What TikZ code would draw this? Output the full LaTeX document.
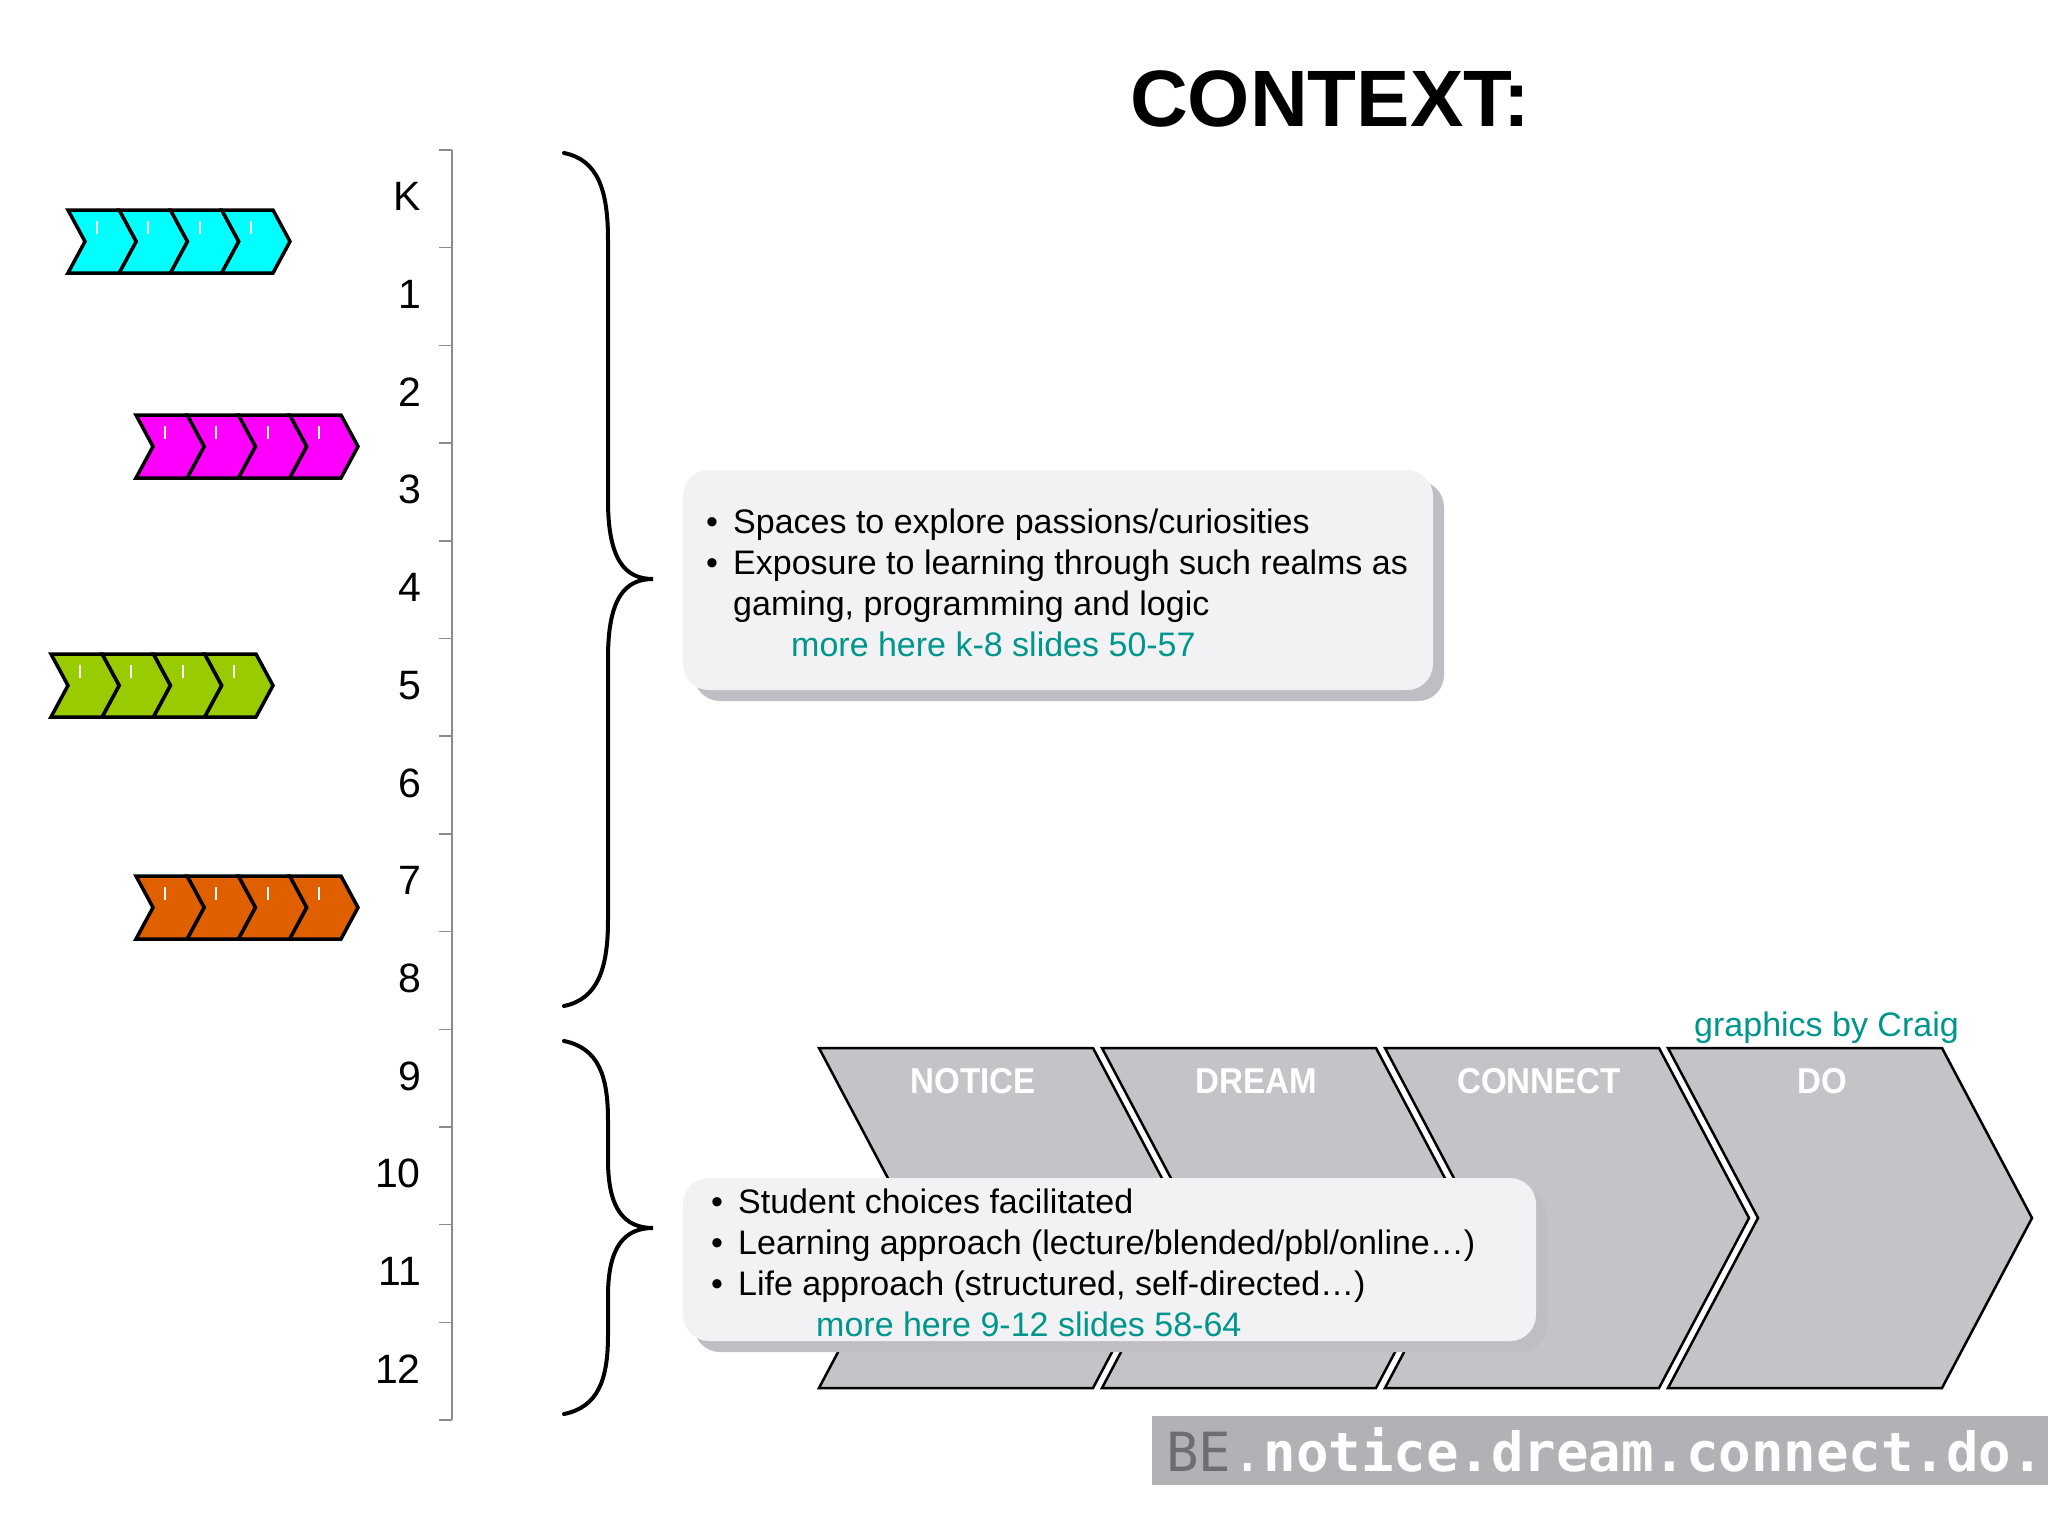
\documentclass[tikz,border=0pt]{standalone}
\usepackage{fontspec}
\setmainfont{Liberation Sans}
\newfontfamily\bandfont{DejaVu Sans Mono}
\definecolor{boxgray}{RGB}{242,242,244}
\definecolor{shadowgray}{RGB}{190,190,196}
\definecolor{tealtext}{RGB}{0,150,140}
\definecolor{chevgray}{RGB}{196,195,199}
\definecolor{bandgray}{RGB}{178,177,182}
\definecolor{bandBE}{RGB}{110,110,114}
\definecolor{rulergray}{RGB}{140,140,140}
\definecolor{cchev}{RGB}{0,255,255}
\definecolor{mchev}{RGB}{255,0,255}
\definecolor{gchev}{RGB}{153,204,0}
\definecolor{ochev}{RGB}{224,96,0}
\newcommand\smallchevrons[3]{%
  \foreach \i in {0,1,2,3}{%
    \pgfmathsetmacro\xa{#1+\i*51.25}
    \draw[chevsmall, fill=#3] (\xa,#2) -- ++(51.25,0) -- ++(17,31.5) -- ++(-17,31.5) -- ++(-51.25,0) -- ++(17,-31.5) -- cycle;
    \draw[white, line width=2bp] (\xa+29,#2+11) -- ++(0,13);
  }}
\begin{document}
\begin{tikzpicture}[x=1bp,y=-1bp,
  chevsmall/.style={draw=black, line width=3.5bp, line join=miter},
  bigchev/.style={draw=black, line width=2.5bp, fill=chevgray, line join=miter},
  chevlabel/.style={anchor=base, inner sep=0, text=white, xscale=0.92, font=\fontsize{36bp}{36bp}\selectfont\bfseries},
  rulerline/.style={draw=rulergray, line width=1.5bp},
  gradelabel/.style={anchor=base east, inner sep=0, font=\fontsize{41bp}{41bp}\selectfont},
  bracestyle/.style={draw=black, line width=4bp, line cap=round},
  boxtext/.style={anchor=base west, inner sep=0, font=\fontsize{34bp}{41bp}\selectfont},
  linktext/.style={anchor=base west, inner sep=0, text=tealtext, font=\fontsize{34bp}{41bp}\selectfont}
]
\useasboundingbox (0,0) rectangle (2048,1536);
\fill[white] (0,0) rectangle (2048,1536);

% title
\node[anchor=base, inner sep=0] (title) at (1330,127) {\fontsize{80bp}{80bp}\selectfont\bfseries CONTEXT:};

% small chevron groups
\smallchevrons{68}{210}{cchev}
\smallchevrons{136}{415}{mchev}
\smallchevrons{51}{654}{gchev}
\smallchevrons{136}{876}{ochev}

% ruler
\draw[rulerline] (452,150) -- (452,1420);
\foreach \i in {0,...,13}{
  \draw[rulerline] (439,150+97.7*\i) -- (452,150+97.7*\i);
}
\foreach \lab [count=\i from 0] in {K,1,2,3,4,5,6,7,8,9,10,11,12}{
  \node[gradelabel] (grade\i) at (421,150+97.7*\i+48.85+12) {\lab};
}

% braces
\draw[bracestyle] (564,153) .. controls (598,160) and (608,190) .. (608,240) -- (608,500)
  .. controls (608,560) and (625,579) .. (653,579)
  .. controls (625,579) and (608,598) .. (608,658) -- (608,920)
  .. controls (608,968) and (598,999) .. (564,1006);
\draw[bracestyle] (564,1041) .. controls (598,1048) and (608,1075) .. (608,1120) -- (608,1160)
  .. controls (608,1210) and (625,1228) .. (653,1228)
  .. controls (625,1228) and (608,1246) .. (608,1296) -- (608,1335)
  .. controls (608,1380) and (598,1407) .. (564,1414);

% process chevrons
\foreach \x/\lab/\nm in {819/NOTICE/notice, 1102/DREAM/dream, 1385/CONNECT/connect, 1668/DO/do}{
  \draw[bigchev] (\x,1048) -- ++(274,0) -- ++(90,170) -- ++(-90,170) -- ++(-274,0) -- ++(90,-170) -- cycle;
  \node[chevlabel] (\nm) at (\x+154,1093) {\lab};
}

\node[anchor=base west, inner sep=0, text=tealtext, font=\fontsize{34bp}{41bp}\selectfont] (credit) at (1694,1036) {graphics by Craig};

% box 1
\fill[shadowgray, rounded corners=26bp] (694,481) rectangle (1444,701);
\fill[boxgray, rounded corners=26bp] (683,470) rectangle (1433,690);
\node[boxtext] (b1a) at (706,533) {•};
\node[boxtext] (t1a) at (733,533) {Spaces to explore passions/curiosities};
\node[boxtext] (b1b) at (706,574) {•};
\node[boxtext] (t1b) at (733,574) {Exposure to learning through such realms as};
\node[boxtext] (t1c) at (733,615) {gaming, programming and logic};
\node[linktext] (l1) at (791,656) {more here k-8 slides 50-57};

% box 2
\fill[shadowgray, rounded corners=26bp] (694,1189) rectangle (1547,1352);
\fill[boxgray, rounded corners=26bp] (683,1178) rectangle (1536,1341);
\node[boxtext] (b2a) at (711,1213) {•};
\node[boxtext] (t2a) at (738,1213) {Student choices facilitated};
\node[boxtext] (b2b) at (711,1254) {•};
\node[boxtext] (t2b) at (738,1254) {Learning approach (lecture/blended/pbl/online…)};
\node[boxtext] (b2c) at (711,1295) {•};
\node[boxtext] (t2c) at (738,1295) {Life approach (structured, self-directed…)};
\node[linktext] (l2) at (816,1336) {more here 9-12 slides 58-64};

% bottom band
\fill[bandgray] (1152,1416) rectangle (2048,1485);
\node[anchor=base west, inner sep=0, font=\bandfont\fontsize{54bp}{54bp}\selectfont] (band) at (1166,1471)
  {\textcolor{bandBE}{BE}\textcolor{white}{.\bfseries notice.dream.connect.do.}};
\end{tikzpicture}
\end{document}
